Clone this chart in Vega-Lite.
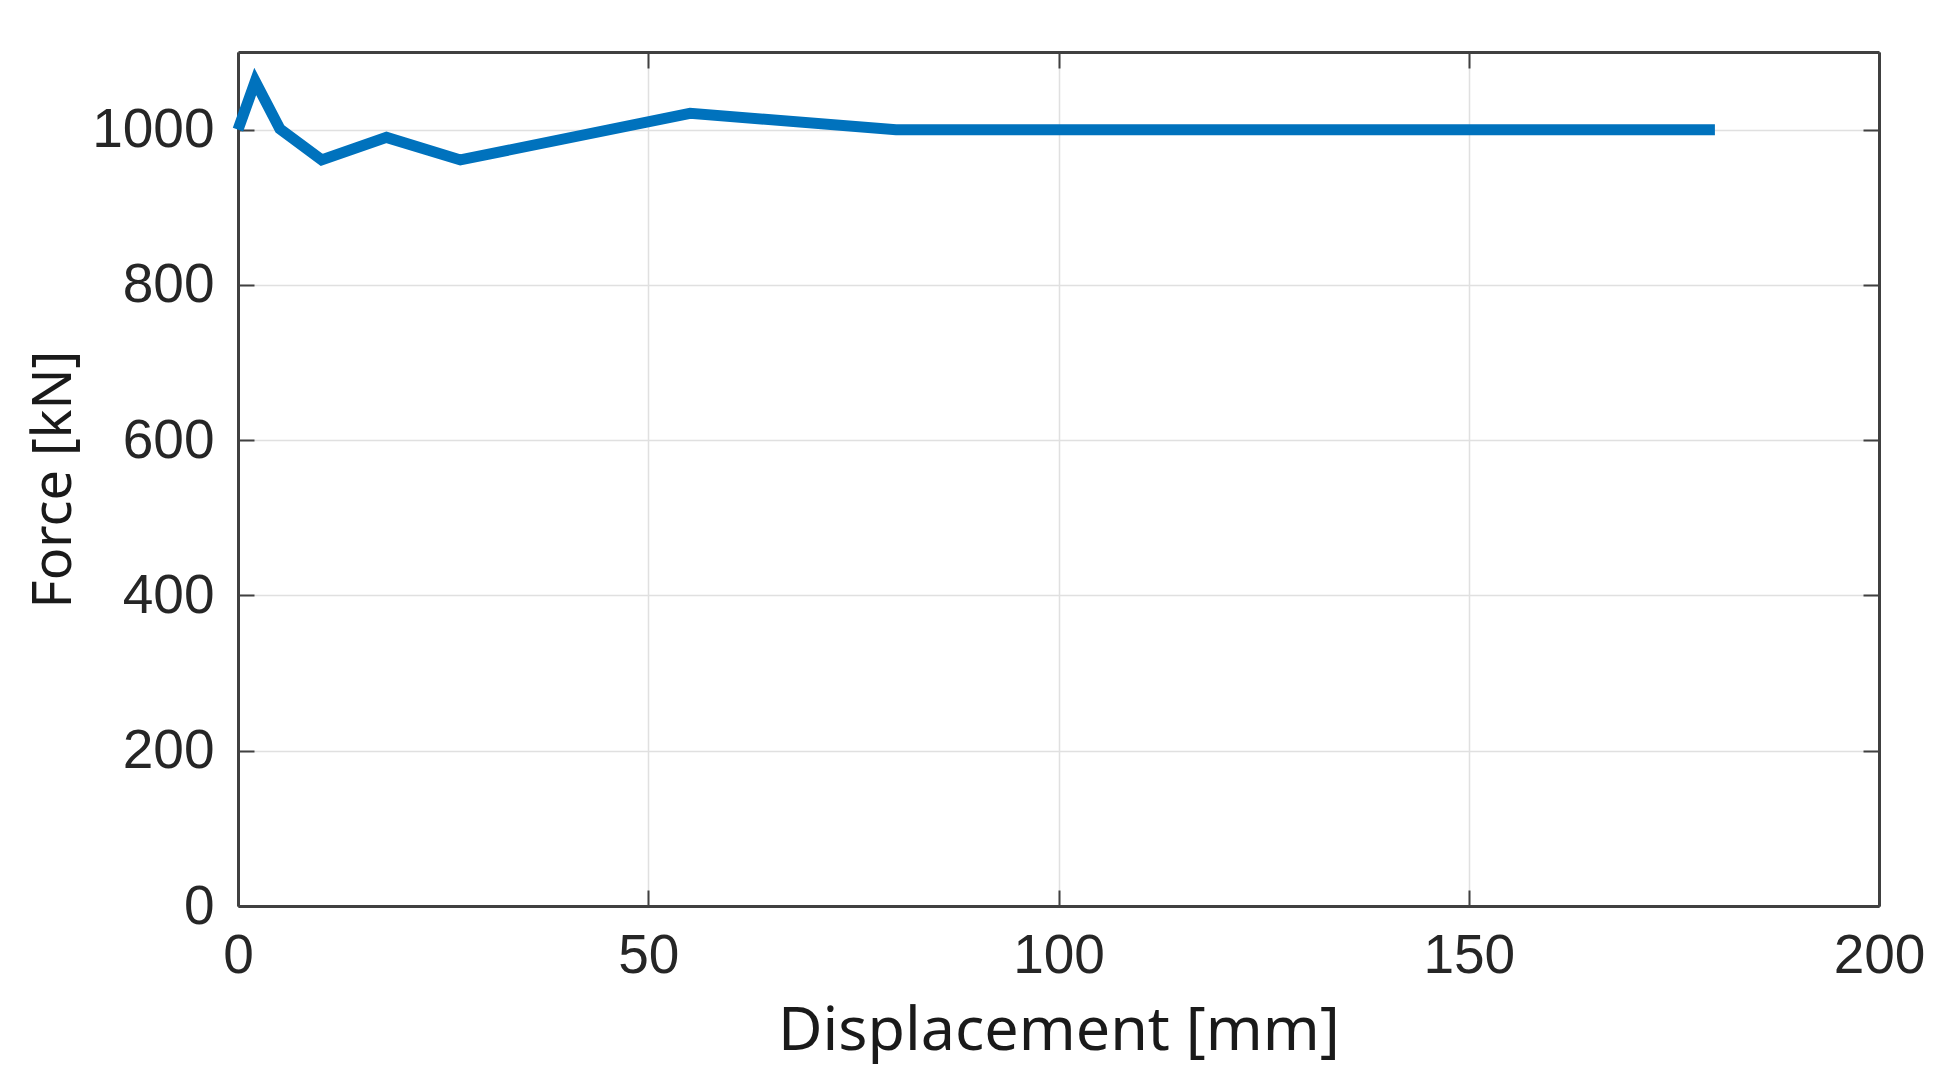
{
  "$schema": "https://vega.github.io/schema/vega-lite/v6.json",
  "width": 1641,
  "height": 854,
  "autosize": {"type": "none"},
  "padding": {"left": 238, "top": 52, "right": 72, "bottom": 172},
  "background": "white",
  "config": {
    "view": {"stroke": null},
    "axis": {
      "domainColor": "#404040",
      "domainWidth": 3,
      "tickColor": "#404040",
      "tickWidth": 2,
      "tickSize": -16,
      "gridColor": "#e0e0e0",
      "gridWidth": 1.5,
      "labelFont": "Liberation Sans",
      "labelFontSize": 55,
      "labelColor": "#262626",
      "titleFont": "Noto Sans",
      "titleFontWeight": "normal",
      "titleColor": "#1a1a1a"
    }
  },
  "data": {
    "values": [
      {"d": 0, "f": 1000},
      {"d": 2.1, "f": 1062},
      {"d": 5.1, "f": 1001},
      {"d": 10.2, "f": 961},
      {"d": 18.1, "f": 990},
      {"d": 27.1, "f": 961},
      {"d": 55.1, "f": 1021},
      {"d": 80.2, "f": 1000},
      {"d": 180, "f": 1000}
    ]
  },
  "layer": [
    {
      "mark": {"type": "line", "color": "#0072BD", "strokeWidth": 11, "strokeCap": "butt", "strokeJoin": "miter"},
      "encoding": {
        "x": {
          "field": "d", "type": "quantitative",
          "scale": {"domain": [0, 200], "nice": false, "zero": false},
          "axis": {
            "orient": "bottom",
            "values": [0, 50, 100, 150, 200],
            "format": "d",
            "title": "Displacement [mm]",
            "titleFontSize": 61,
            "titlePadding": 18,
            "labelPadding": 39,
            "grid": true,
            "labelFlush": false
          }
        },
        "y": {
          "field": "f", "type": "quantitative",
          "scale": {"domain": [0, 1100], "nice": false, "zero": true},
          "axis": {
            "orient": "left",
            "values": [0, 200, 400, 600, 800, 1000],
            "format": "d",
            "title": "Force [kN]",
            "titleFontSize": 54,
            "titlePadding": 10,
            "labelPadding": 40,
            "grid": true,
            "labelFlush": false
          }
        }
      }
    },
    {
      "mark": {"type": "line", "strokeOpacity": 0},
      "encoding": {
        "x": {
          "field": "d", "type": "quantitative",
          "scale": {"domain": [0, 200], "nice": false, "zero": false},
          "axis": {"orient": "top", "values": [0, 50, 100, 150, 200], "labels": false, "title": null, "grid": false}
        },
        "y": {
          "field": "f", "type": "quantitative",
          "scale": {"domain": [0, 1100], "nice": false, "zero": true},
          "axis": {"orient": "right", "values": [0, 200, 400, 600, 800, 1000], "labels": false, "title": null, "grid": false}
        }
      }
    }
  ],
  "resolve": {"axis": {"x": "independent", "y": "independent"}}
}
